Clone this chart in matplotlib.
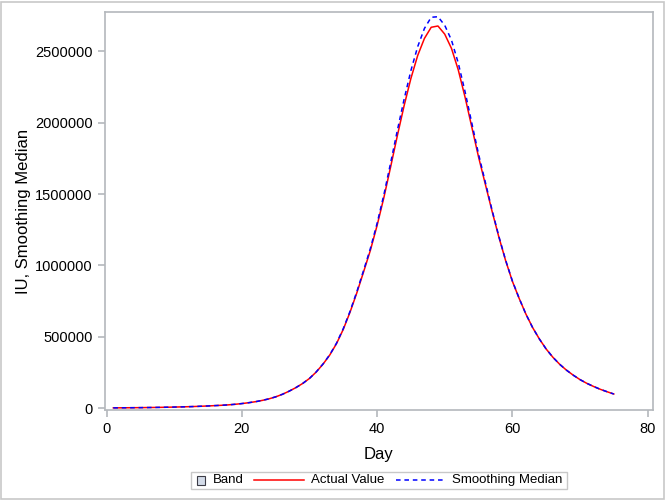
import matplotlib
matplotlib.use("Agg")
import matplotlib.pyplot as plt
from matplotlib.patches import Rectangle
from matplotlib.lines import Line2D

plt.rcParams['font.family'] = ['Liberation Sans', 'DejaVu Sans']

# data
days = list(range(1, 76))
actual = [3000, 3300, 3700, 4100, 4600, 5200, 5800, 6600, 7500, 8500,
          9700, 11000, 12500, 14300, 16300, 18700, 21000, 24000, 28000, 33000,
          39000, 46000, 55000, 66000, 80000, 98000, 120000, 145000, 174000, 209000,
          254000, 309000, 373000, 453000, 553000, 673000, 808000, 955000, 1105000, 1280000,
          1475000, 1690000, 1910000, 2120000, 2310000, 2470000, 2590000, 2668000, 2677000, 2620000,
          2520000, 2370000, 2180000, 1970000, 1760000, 1570000, 1380000, 1200000, 1035000, 890000,
          770000, 660000, 565000, 485000, 415000, 357000, 308000, 267000, 232000, 201000,
          175000, 153000, 133000, 116000, 100000]
smooth = [3000, 3300, 3700, 4100, 4600, 5200, 5800, 6600, 7500, 8500,
          9700, 11000, 12500, 14300, 16300, 18700, 21000, 24000, 28000, 33000,
          39000, 46000, 55000, 66000, 80000, 98000, 120000, 145000, 174000, 209000,
          255000, 310000, 375000, 456000, 558000, 679000, 816000, 965000, 1118000, 1295000,
          1495000, 1718000, 1947000, 2165000, 2365000, 2532000, 2660000, 2738000, 2742000, 2682000,
          2578000, 2418000, 2218000, 1998000, 1780000, 1584000, 1388000, 1205000, 1038000, 892000,
          771000, 660000, 565000, 485000, 415000, 357000, 308000, 267000, 232000, 201000,
          175000, 153000, 133000, 116000, 100000]

W, H = 666, 500
fig = plt.figure(figsize=(W / 100, H / 100), dpi=100)
ax = fig.add_axes([0.157, 0.18, 0.8235, 0.796])

red = '#ff0000'
blue = '#0000ff'
dash = (0, (3, 2.5))
ax.plot(days, actual, color=red, lw=1.1)
ax.plot(days, smooth, color=blue, lw=1.1, ls=dash)

ax.set_xlim(-0.3, 80.8)
ax.set_ylim(-12000, 2775000)
ax.set_xticks([0, 20, 40, 60, 80])
ax.set_yticks([0, 500000, 1000000, 1500000, 2000000, 2500000])
ax.set_yticklabels(['0', '500000', '1000000', '1500000', '2000000', '2500000'])

grey = '#b4b8bc'
for s in ax.spines.values():
    s.set_color(grey)
    s.set_linewidth(1.2)
ax.tick_params(colors=grey, labelcolor='black', labelsize=10.5, length=5, width=1.2)

ax.set_xlabel('Day', fontsize=12, labelpad=8)
ax.set_ylabel('IU, Smoothing Median', fontsize=12, labelpad=3)

# legend drawn by hand so the pieces sit where they do in the original
def fx(px):
    return px / W

def fy(py):
    return 1 - py / H

ly = 480
lfs = 9.5
fig.patches.append(Rectangle((fx(190.5), fy(488.5)), fx(567) - fx(190.5), fy(472) - fy(488.5),
                             transform=fig.transFigure, fill=False, edgecolor='#c8c8c8', lw=1.0))
fig.patches.append(Rectangle((fx(196.5), fy(484.5)), fx(8), fy(476) - fy(484.5),
                             transform=fig.transFigure, facecolor='#d3dbe8',
                             edgecolor='#3c3c46', lw=0.8))
fig.text(fx(212.5), fy(ly), 'Band', fontsize=lfs, va='center', ha='left')
fig.lines.append(Line2D([fx(254), fx(304)], [fy(ly), fy(ly)], transform=fig.transFigure,
                        color=red, lw=1.1))
fig.text(fx(311), fy(ly), 'Actual Value', fontsize=lfs, va='center', ha='left')
fig.lines.append(Line2D([fx(396), fx(446)], [fy(ly), fy(ly)], transform=fig.transFigure,
                        color=blue, lw=1.1, ls=dash))
fig.text(fx(452), fy(ly), 'Smoothing Median', fontsize=lfs, va='center', ha='left')

# outer border of the graph
fig.patches.append(Rectangle((0.002, 0.003), 0.995, 0.994, transform=fig.transFigure,
                             fill=False, edgecolor='#c8c8c8', lw=1.2))

fig.savefig('out.png', dpi=100)
